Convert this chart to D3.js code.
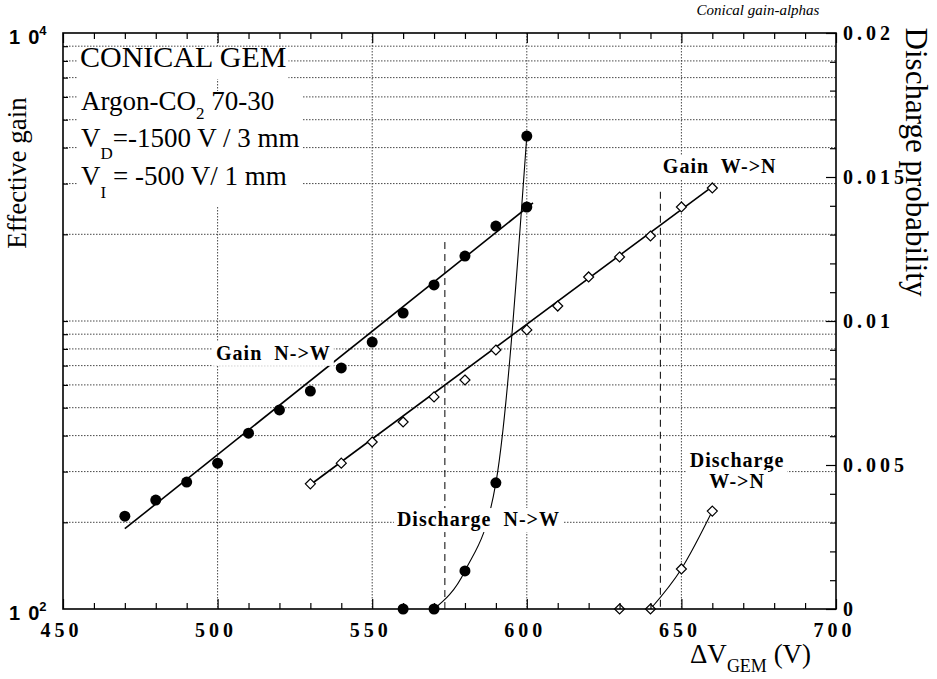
<!DOCTYPE html>
<html>
<head>
<meta charset="utf-8">
<script src="https://cdn.jsdelivr.net/npm/d3@7"></script>
<style>
    body { margin: 0; background: #fff; }
    text { font-family: "Liberation Serif", "Times New Roman", serif; fill: #000; white-space: pre; }
    .grid line { stroke: #333; stroke-width: 0.9; stroke-dasharray: 1.5, 1.5; }
    .tick line { stroke: #000; stroke-width: 1.2; }
    .tickLabel { font-weight: bold; font-size: 20px; letter-spacing: 4px; }
    .plotLabel { font-weight: bold; font-size: 20px; letter-spacing: 1px; }
</style>
</head>
<body>
<svg id="chart" width="937" height="679"></svg>
<script>
/*
 Data
 */
var gainNWVolts = [470, 480, 490, 500, 510, 520, 530, 540, 550, 560, 570, 580, 590, 600];
var gainNW = [210, 239, 276, 321, 408, 491, 571, 687, 845, 1066, 1334, 1681, 2137, 2488];

var gainWNVolts = [530, 540, 550, 560, 570, 580, 590, 600, 610, 620, 630, 640, 650, 660];
var gainWN = [272, 321, 380, 446, 545, 624, 793, 931, 1127, 1422, 1668, 1973, 2488, 2897];

// straight fits drawn through the gain points (start / end)
var fitNWVolts = [470, 602];
var fitNW = [190, 2570];
var fitWNVolts = [530, 660];
var fitWN = [270, 2930];

var dischNWVolts = [560, 570, 580, 590, 600];
var dischNW = [0, 0, 0.00132, 0.00438, 0.01642];
var dischWNVolts = [630, 640, 650, 660];
var dischWN = [0, 0, 0.00139, 0.0034];

// dashed markers: voltage and gain where the dashed line stops
var thresholdVolts = [573.5, 643.2];
var thresholdGain = [1880, 2810];

var gridGain = [200, 300, 400, 500, 600, 700, 800, 900, 1000, 2000, 3000, 4000, 5000, 6000, 7000, 8000, 9000];
var gridVolts = [500, 550, 600, 650];
var voltTicks = d3.range(450, 701, 10);
var probTicks = d3.range(0, 21).map(function (i) { return i / 1000; });

var PL = 63, PR = 836, PT = 33, PB = 609;

var svg = d3.select('#chart');
svg.append('rect').attr('width', 937).attr('height', 679).attr('fill', '#fff');

var x = d3.scaleLinear().domain([450, 700]).range([PL, PR]);
var y = d3.scaleLog().domain([100, 10000]).range([PB, PT]);
var y2 = d3.scaleLinear().domain([0, 0.02]).range([PB, PT]);

function zip(xs, ys) {
    return xs.map(function (v, i) { return {v: v, val: ys[i]}; });
}

/*
 Grid
 */
function makeGridSVG(svg) {
    var grid = svg.append('g').classed('grid', true);
    grid.selectAll('.hgrid')
        .data(gridGain)
        .enter().append('line')
        .attr('x1', PL).attr('x2', PR)
        .attr('y1', function (d) { return y(d); })
        .attr('y2', function (d) { return y(d); });
    grid.selectAll('.vgrid')
        .data(gridVolts)
        .enter().append('line')
        .attr('y1', PT).attr('y2', PB)
        .attr('x1', function (d) { return x(d); })
        .attr('x2', function (d) { return x(d); });
}

function makeThresholdsSVG(svg) {
    svg.append('g').selectAll('line')
        .data(zip(thresholdVolts, thresholdGain))
        .enter().append('line')
        .attr('x1', function (d) { return x(d.v); })
        .attr('x2', function (d) { return x(d.v); })
        .attr('y1', function (d) { return y(d.val); })
        .attr('y2', PB)
        .attr('stroke', '#000')
        .attr('stroke-width', 1)
        .attr('stroke-dasharray', '7,5');
}

/*
 Curves and lines
 */
function makeFitSVG(svg, volts, vals) {
    var line = d3.line()
        .x(function (d) { return x(d.v); })
        .y(function (d) { return y(d.val); });
    svg.append('path')
        .datum(zip(volts, vals))
        .attr('d', line)
        .attr('fill', 'none')
        .attr('stroke', '#000')
        .attr('stroke-width', 1.6);
}

function makeDischargeCurveSVG(svg, volts, vals) {
    var pts = zip(volts, vals);
    var first = 0;
    pts.forEach(function (d, i) { if (d.val === 0) first = i; });
    var line = d3.line()
        .curve(d3.curveMonotoneX)
        .x(function (d) { return x(d.v); })
        .y(function (d) { return y2(d.val); });
    svg.append('path')
        .datum(pts.slice(first))
        .attr('d', line)
        .attr('fill', 'none')
        .attr('stroke', '#000')
        .attr('stroke-width', 1.1);
}

function makeCirclesSVG(svg, pts, scale) {
    svg.append('g').selectAll('circle')
        .data(pts)
        .enter().append('circle')
        .attr('cx', function (d) { return x(d.v); })
        .attr('cy', function (d) { return scale(d.val); })
        .attr('r', 5.5)
        .attr('fill', '#000');
}

function makeDiamondsSVG(svg, pts, scale) {
    svg.append('g').selectAll('path')
        .data(pts)
        .enter().append('path')
        .attr('d', 'M0,-5L5,0L0,5L-5,0Z')
        .attr('transform', function (d) {
            return 'translate(' + x(d.v) + ',' + scale(d.val) + ')';
        })
        .attr('fill', '#fff')
        .attr('stroke', '#000')
        .attr('stroke-width', 1.2);
}

/*
 Text with white boxes
 */
function boxBehind(g, node, padX, up, down, baseline) {
    var b = node.getBBox();
    g.insert('rect', ':first-child')
        .attr('x', b.x - padX)
        .attr('width', b.width + 2 * padX)
        .attr('y', baseline - up)
        .attr('height', up + down)
        .attr('fill', '#fff');
}

function makePlotLabelsSVG(svg) {
    var labels = [
        {v: 499.5, val: 733, scale: y, text: 'Gain  N->W', anchor: 'start'},
        {v: 644, val: 3265, scale: y, text: 'Gain  W->N', anchor: 'start'},
        {v: 558, val: 0.00288, scale: y2, text: 'Discharge  N->W', anchor: 'start'},
        {v: 668, val: 0.00493, scale: y2, text: 'Discharge', anchor: 'middle'},
        {v: 668, val: 0.00420, scale: y2, text: 'W->N', anchor: 'middle'}
    ];
    labels.forEach(function (d) {
        var g = svg.append('g');
        var t = g.append('text')
            .classed('plotLabel', true)
            .attr('x', x(d.v))
            .attr('y', d.scale(d.val))
            .attr('text-anchor', d.anchor)
            .text(d.text);
        boxBehind(g, t.node(), 3, 18, 6, d.scale(d.val));
    });
}

function makeInfoSVG(svg) {
    var g1 = svg.append('g');
    var t1 = g1.append('text')
        .attr('x', 80).attr('y', 67)
        .style('font-size', '30px')
        .text('CONICAL GEM');
    boxBehind(g1, t1.node(), 2, 20, 12, 67);

    var g2 = svg.append('g');
    var lines = [
        {y: 110, main: 'Argon-CO', sub: '2', rest: ' 70-30', subDy: 9},
        {y: 147, main: 'V', sub: 'D', rest: '=-1500 V / 3 mm', subDy: 12},
        {y: 185, main: 'V', sub: 'I', rest: ' = -500 V/ 1 mm', subDy: 13}
    ];
    var maxW = 0;
    lines.forEach(function (d) {
        var t = g2.append('text')
            .attr('x', 81).attr('y', d.y)
            .style('font-size', '27px');
        t.append('tspan').text(d.main);
        t.append('tspan').attr('dy', d.subDy).style('font-size', '17px').text(d.sub);
        t.append('tspan').attr('dy', -d.subDy).text(d.rest);
        maxW = Math.max(maxW, t.node().getBBox().width);
    });
    g2.insert('rect', ':first-child')
        .attr('x', 78).attr('y', 91)
        .attr('width', maxW + 6).attr('height', 116)
        .attr('fill', '#fff');
}

/*
 Axes
 */
function makeAxesSVG(svg) {
    var bottom = svg.append('g')
        .attr('transform', 'translate(0,' + PB + ')')
        .call(d3.axisBottom(x).tickValues(voltTicks).tickSize(-6).tickPadding(14)
            .tickFormat(function (d) { return d % 50 === 0 ? d : ''; }));
    bottom.select('.domain').remove();
    bottom.selectAll('.tick line').attr('y2', function (d) { return d % 50 === 0 ? -10 : -6; });
    bottom.selectAll('.tick text').classed('tickLabel', true).attr('dx', -2)
        .style('font-family', '"Liberation Serif", serif');

    var top = svg.append('g')
        .attr('transform', 'translate(0,' + PT + ')')
        .call(d3.axisTop(x).tickValues(voltTicks).tickSize(-6).tickFormat(''));
    top.select('.domain').remove();
    top.selectAll('.tick line').attr('y2', function (d) { return d % 50 === 0 ? 10 : 6; });

    var right = svg.append('g')
        .attr('transform', 'translate(' + PR + ',0)')
        .call(d3.axisRight(y2).tickValues(probTicks).tickSize(-6).tickPadding(7)
            .tickFormat(function (d) {
                var k = Math.round(d * 1000);
                if (k % 5 !== 0) return '';
                return k === 0 ? '0' : String(k / 1000);
            }));
    right.select('.domain').remove();
    right.selectAll('.tick line').attr('x2', function (d) {
        return Math.round(d * 1000) % 5 === 0 ? -10 : -6;
    });
    right.selectAll('.tick text').classed('tickLabel', true)
        .style('font-family', '"Liberation Serif", serif');

    var left = svg.append('g')
        .attr('transform', 'translate(' + PL + ',0)')
        .call(d3.axisLeft(y).tickValues(gridGain).tickSize(-5).tickFormat(''));
    left.select('.domain').remove();

    // log labels 1 0^2 and 1 0^4
    [100, 10000].forEach(function (d) {
        var t = svg.append('text')
            .attr('x', 9).attr('y', y(d) + 11)
            .style('font-family', '"Liberation Sans", Arial, sans-serif')
            .style('font-weight', 'bold')
            .style('font-size', '20px');
        t.append('tspan').text('1');
        t.append('tspan').attr('dx', 8).text('0');
        t.append('tspan').attr('dy', -9).style('font-size', '13px')
            .text(String(Math.round(Math.log10(d))));
    });

    svg.append('rect')
        .attr('x', PL).attr('y', PT)
        .attr('width', PR - PL).attr('height', PB - PT)
        .attr('fill', 'none')
        .attr('stroke', '#000')
        .attr('stroke-width', 1.6);
}

function makeTitlesSVG(svg) {
    svg.append('text')
        .attr('transform', 'translate(26,173) rotate(-90)')
        .attr('text-anchor', 'middle')
        .style('font-size', '27px')
        .text('Effective gain');

    svg.append('text')
        .attr('transform', 'translate(906,162) rotate(90)')
        .attr('text-anchor', 'middle')
        .style('font-size', '31px')
        .text('Discharge probability');

    var xt = svg.append('text')
        .attr('x', 690).attr('y', 663)
        .style('font-size', '27px');
    xt.append('tspan').text('\u0394V');
    xt.append('tspan').attr('dy', 9).style('font-size', '18px').text('GEM');
    xt.append('tspan').attr('dy', -9).text(' (V)');

    svg.append('text')
        .attr('x', 758).attr('y', 15)
        .attr('text-anchor', 'middle')
        .style('font-size', '15px')
        .style('font-style', 'italic')
        .text('Conical gain-alphas');
}

makeGridSVG(svg);
makeThresholdsSVG(svg);
makeFitSVG(svg, fitNWVolts, fitNW);
makeFitSVG(svg, fitWNVolts, fitWN);
makeDischargeCurveSVG(svg, dischNWVolts, dischNW);
makeDischargeCurveSVG(svg, dischWNVolts, dischWN);
makeInfoSVG(svg);
makePlotLabelsSVG(svg);
makeCirclesSVG(svg, zip(gainNWVolts, gainNW), y);
makeDiamondsSVG(svg, zip(gainWNVolts, gainWN), y);
makeCirclesSVG(svg, zip(dischNWVolts, dischNW), y2);
makeDiamondsSVG(svg, zip(dischWNVolts, dischWN), y2);
makeAxesSVG(svg);
makeTitlesSVG(svg);
</script>
</body>
</html>
